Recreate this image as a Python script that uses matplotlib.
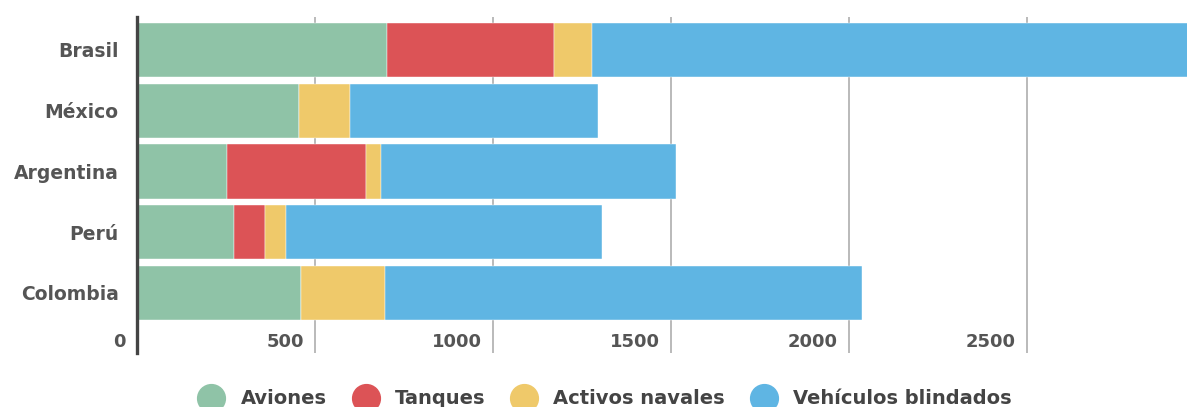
import matplotlib.pyplot as plt
from matplotlib.lines import Line2D
from matplotlib.transforms import offset_copy, blended_transform_factory

paises = ["Brasil", "México", "Argentina", "Perú", "Colombia"]
aviones = [702, 457, 253, 274, 461]
tanques = [470, 0, 390, 86, 0]
navales = [107, 143, 43, 58, 235]
blindados = [1750, 695, 828, 887, 1341]

series = ["Aviones", "Tanques", "Activos navales", "Vehículos blindados"]
colores = ["#8fc3a7", "#dc5356", "#efc96a", "#5fb5e3"]
xticks = [0, 500, 1000, 1500, 2000, 2500]

fig = plt.figure(figsize=(11.87, 4.07), dpi=100)
ax = fig.add_axes([0.1152, 0.1327, 0.8848, 0.8255])

left = [0] * len(paises)
for vals, col in zip([aviones, tanques, navales, blindados], colores):
    ax.barh(range(len(paises)), vals, left=left, height=0.89, color=col,
            edgecolor="#ffffff", linewidth=0.3, zorder=3)
    left = [a + b for a, b in zip(left, vals)]

ax.set_xlim(0, 2949)
ax.set_ylim(4.988, -0.543)

# vertical gridlines
for t in xticks[1:]:
    ax.axvline(t, color="#b4b4b4", lw=1.3, zorder=1)

for s in ["top", "right", "bottom"]:
    ax.spines[s].set_visible(False)
ax.spines["left"].set_color("#444444")
ax.spines["left"].set_linewidth(2.4)
ax.spines["left"].set_zorder(5)

ax.set_xticks([])
ax.set_yticks(range(len(paises)))
ax.set_yticklabels(paises, fontsize=13.5, fontweight="bold", color="#555555")
ax.tick_params(axis="y", length=0, pad=13)

# tick labels sit inside the plot area, right-aligned next to the gridlines
trans = blended_transform_factory(ax.transData, fig.transFigure)
trans = offset_copy(trans, fig=fig, x=-11, y=0, units="dots")
for t in xticks:
    ax.text(t, 1 - 342 / 407, str(t), transform=trans, ha="right", va="center",
            fontsize=13, fontweight="bold", color="#555555", clip_on=False)

handles = [Line2D([], [], marker="o", linestyle="none", markersize=20,
                  markerfacecolor=c, markeredgecolor=c) for c in colores]
fig.legend(handles, series, loc="center", bbox_to_anchor=(0.507, 0.02),
           ncol=4, frameon=False, handletextpad=0.5, columnspacing=1.0,
           labelcolor="#444444", prop={"size": 14, "weight": "bold"})

fig.savefig("out.png", dpi=100)
